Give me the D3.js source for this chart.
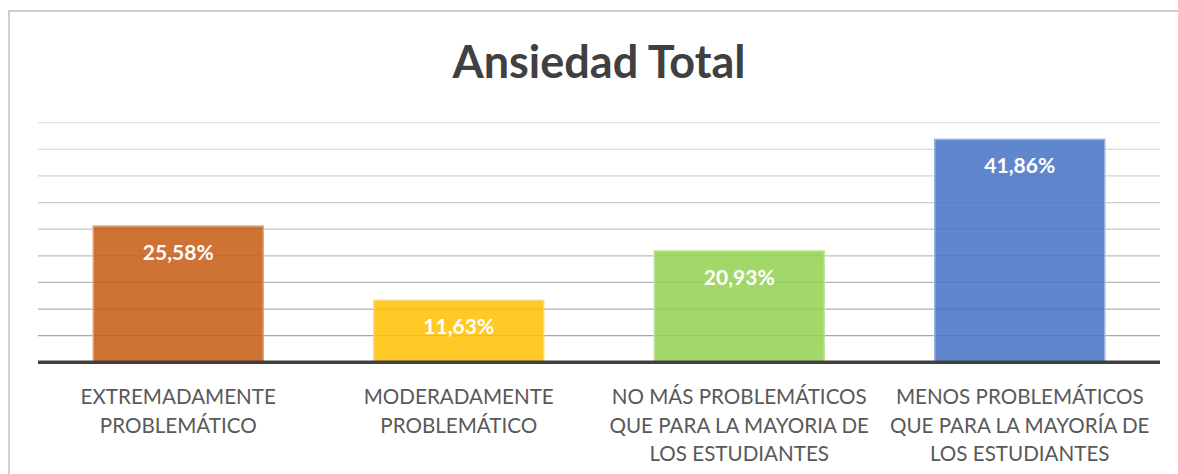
<!DOCTYPE html>
<html>
<head>
  <style>
    body { margin: 0; background: white; }
    svg { display: block; font-family: Lato, "Open Sans", sans-serif; }
  </style>
</head>
<body>
  <svg id="chart"></svg>
  <script src="https://cdn.jsdelivr.net/npm/d3@7"></script>
  <script>
    // datos
    var categories = [
      ["EXTREMADAMENTE", "PROBLEMÁTICO"],
      ["MODERADAMENTE", "PROBLEMÁTICO"],
      ["NO MÁS PROBLEMÁTICOS", "QUE PARA LA MAYORIA DE", "LOS ESTUDIANTES"],
      ["MENOS PROBLEMÁTICOS", "QUE PARA LA MAYORÍA DE", "LOS ESTUDIANTES"]
    ];
    var values = [25.58, 11.63, 20.93, 41.86];
    var barColors = ["#c55a11", "#ffc000", "#92d050", "#4472c4"];
    var gridTicks = [0, 5, 10, 15, 20, 25, 30, 35, 40, 45];
    var title = "Ansiedad Total";

    var width = 1178, height = 474;
    var plot = { left: 38, right: 1160, top: 122.7, bottom: 362.3 };

    var svg = d3.select("#chart").attr("width", width).attr("height", height);

    // marco del gráfico
    svg.append("rect")
      .attr("x", 9).attr("y", 11)
      .attr("width", 1200).attr("height", 500)
      .attr("fill", "white")
      .attr("stroke", "#c0c0c0")
      .attr("stroke-width", 1.5);

    var x = d3.scaleBand()
      .domain(d3.range(values.length))
      .range([plot.left, plot.right])
      .paddingInner(0.394)
      .paddingOuter(0.197);

    var y = d3.scaleLinear()
      .domain([0, 45])
      .range([plot.bottom, plot.top]);

    // líneas de cuadrícula con degradado
    var gridColor = d3.interpolateRgb("#e4e4e4", "#a0a0a0");
    svg.append("g")
      .selectAll("line")
      .data(gridTicks.slice(1))
      .join("line")
      .attr("x1", plot.left).attr("x2", plot.right)
      .attr("y1", d => y(d)).attr("y2", d => y(d))
      .attr("stroke", d => gridColor(1 - d / 45))
      .attr("stroke-width", 1.3);

    // barras
    svg.append("g")
      .selectAll("rect")
      .data(values)
      .join("rect")
      .attr("x", (d, i) => x(i))
      .attr("y", d => y(d))
      .attr("width", x.bandwidth())
      .attr("height", d => y(0) - y(d))
      .attr("fill", (d, i) => barColors[i])
      .attr("fill-opacity", 0.85)
      .attr("stroke", (d, i) => d3.interpolateRgb(barColors[i], "white")(0.45))
      .attr("stroke-width", 1.5);

    // eje base
    svg.append("line")
      .attr("x1", plot.left).attr("x2", plot.right)
      .attr("y1", y(0)).attr("y2", y(0))
      .attr("stroke", "#404040")
      .attr("stroke-width", 3.5);

    // etiquetas de datos
    svg.append("g")
      .selectAll("text")
      .data(values)
      .join("text")
      .attr("x", (d, i) => x(i) + x.bandwidth() / 2)
      .attr("y", d => y(d) + 34)
      .attr("text-anchor", "middle")
      .attr("fill", "white")
      .attr("font-weight", "bold")
      .attr("font-size", 21)
      .text(d => d.toFixed(2).replace(".", ",") + "%");

    // etiquetas de categorías
    var catLabels = svg.append("g")
      .selectAll("text")
      .data(categories)
      .join("text")
      .attr("text-anchor", "middle")
      .attr("fill", "#595959")
      .attr("font-size", 20.6);
    catLabels.selectAll("tspan")
      .data((d, i) => d.map(t => ({ t: t, i: i })))
      .join("tspan")
      .attr("x", d => x(d.i) + x.bandwidth() / 2)
      .attr("y", (d, j) => 404 + j * 28.5)
      .text(d => d.t);

    // título
    svg.append("text")
      .attr("x", 599).attr("y", 78)
      .attr("text-anchor", "middle")
      .attr("fill", "#404040")
      .attr("font-weight", "bold")
      .attr("font-size", 45)
      .text(title);
  </script>
</body>
</html>
